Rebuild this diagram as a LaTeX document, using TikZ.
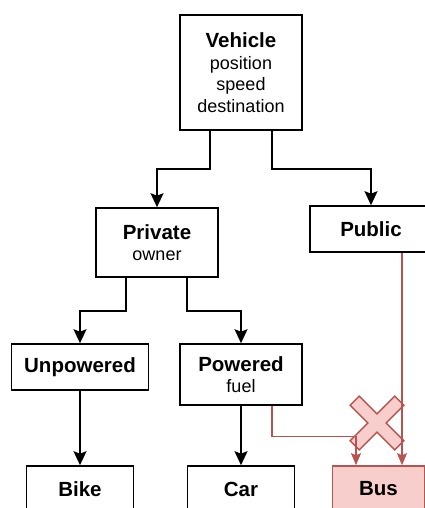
\documentclass[tikz,border=0pt]{standalone}
\usepackage{fontspec}
\setmainfont{Liberation Sans}
\usetikzlibrary{arrows.meta}
\definecolor{busfill}{HTML}{F8CECC}
\definecolor{busline}{HTML}{B85450}
\newcommand{\cname}[1]{{\fontsize{20.5}{22}\selectfont\bfseries #1}}

\begin{document}
\begin{tikzpicture}[x=1pt, y=-1pt,
    box/.style={draw, line width=1.6pt, align=center, inner sep=0pt,
        font=\fontsize{18}{21.5}\selectfont},
    link/.style={line width=1.8pt, -{Stealth[length=14pt, width=13pt, inset=2.5pt]}},
    badlink/.style={line width=1.4pt, busline, -{Stealth[length=12pt, width=10pt, inset=2pt]}},
]
    \useasboundingbox (0,0) rectangle (425,508);

    % Classes
    \node[box, minimum width=122pt, minimum height=115pt] (vehicle) at (241,72.5)
        {\cname{Vehicle}\\position\\speed\\destination};
    \node[box, minimum width=122pt, minimum height=69pt] (private) at (157,242.5)
        {\cname{Private}\\owner};
    \node[box, minimum width=122pt, minimum height=46pt] (public) at (371,229)
        {\cname{Public}};
    \node[box, minimum width=137pt, minimum height=46pt] (unpowered) at (80,367)
        {\cname{Unpowered}};
    \node[box, minimum width=122pt, minimum height=61pt] (powered) at (241,374.5)
        {\cname{Powered}\\fuel};
    \node[box, minimum width=107pt, minimum height=46pt] (bike) at (80,489)
        {\cname{Bike}};
    \node[box, minimum width=107pt, minimum height=46pt] (car) at (241,489)
        {\cname{Car}};
    \node[box, draw=busline, fill=busfill, minimum width=92pt, minimum height=46pt] (bus) at (378.5,489)
        {\cname{Bus}};

    % Inheritance
    \draw[link] ([xshift=-31pt]vehicle.south) -- ++(0,38) -| (private.north);
    \draw[link] ([xshift=31pt]vehicle.south) -- ++(0,38) -| (public.north);
    \draw[link] ([xshift=-31pt]private.south) -- ++(0,33) -| (unpowered.north);
    \draw[link] ([xshift=30pt]private.south) -- ++(0,33) -| (powered.north);
    \draw[link] (unpowered.south) -- (bike.north);
    \draw[link] (powered.south) -- (car.north);

    % Forbidden double inheritance
    \begin{scope}[shift={(377,423)}, rotate=45]
        \draw[busline, fill=busfill, line width=1.4pt]
            (-6.5,-31.5) -- (6.5,-31.5) -- (6.5,-6.5) -- (31.5,-6.5) -- (31.5,6.5) -- (6.5,6.5)
            -- (6.5,31.5) -- (-6.5,31.5) -- (-6.5,6.5) -- (-31.5,6.5) -- (-31.5,-6.5) -- (-6.5,-6.5) -- cycle;
    \end{scope}
    \draw[badlink] ([xshift=31pt]powered.south) -- ++(0,30.5) -| ([xshift=-22.5pt]bus.north);
    \draw[badlink] ([xshift=31pt]public.south) -- ([xshift=31pt]public.south |- bus.north);
\end{tikzpicture}
\end{document}
